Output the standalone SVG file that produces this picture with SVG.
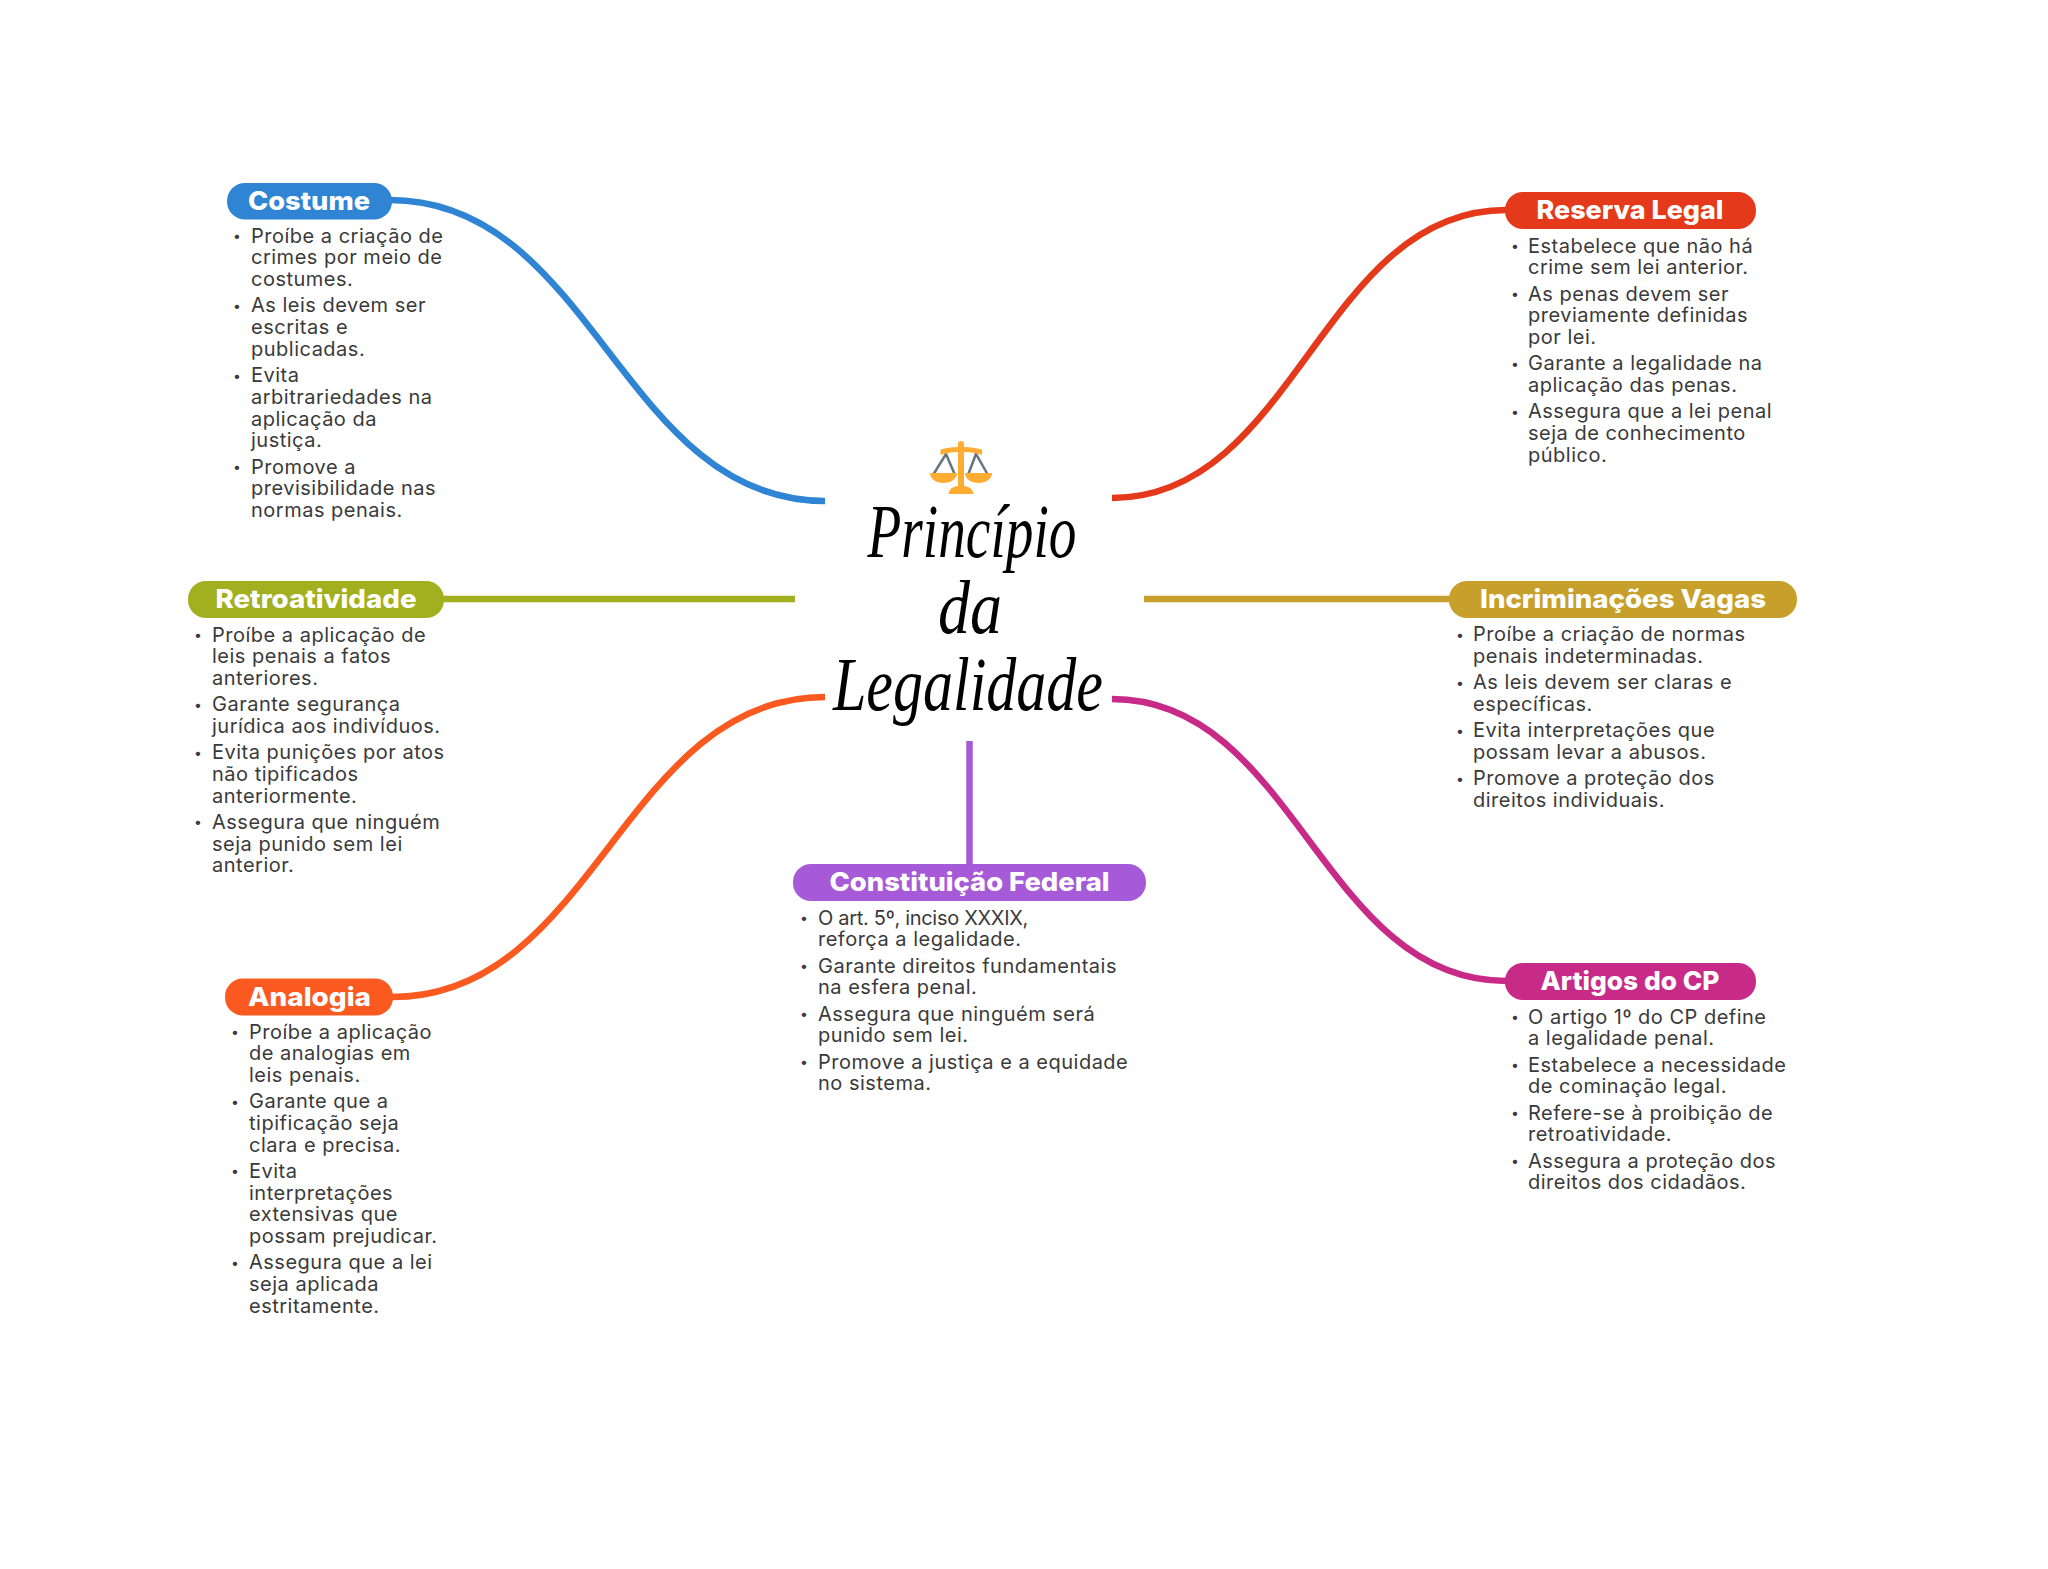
<svg xmlns="http://www.w3.org/2000/svg" width="2048" height="1569" viewBox="0 0 2048 1569">
<style>
.c{fill:none;stroke-width:6.5}
.h{font-family:Inter,"Noto Sans",sans-serif;font-weight:800;font-size:26px;fill:#fff;text-anchor:middle}
.b{font-family:Inter,"Noto Sans",sans-serif;font-size:20px;fill:#3a3a3a;letter-spacing:.5px}
.d{font-size:14px}
.t{font-family:"Liberation Serif",serif;font-style:italic;font-size:76px;fill:#000;text-anchor:middle}
</style>
<rect width="2048" height="1569" fill="#fff"/>
<g id="connectors">
<path class="c" stroke="#2F85D4" d="M390 200C593 200 622 501 825 501"/>
<path class="c" stroke="#E43A1B" d="M1112 498C1295 498 1322 210 1506 210"/>
<path class="c" stroke="#A2AF1E" d="M443 599H795"/>
<path class="c" stroke="#C79F2B" d="M1144 599H1452"/>
<path class="c" stroke="#FA5A20" d="M825 697C623 697 595 997 392 997"/>
<path class="c" stroke="#C72A87" d="M1112 699C1295 699 1322 981 1506 981"/>
<path class="c" stroke="#A75AD8" d="M969.5 741V865"/>
</g>
<g id="center">
<g id="icon">
<path fill="none" stroke="#66757F" stroke-width="2.500" d="M933 475L946 454L955 475M968 475L976 454L988 475"/>
<path fill="#FFAC33" d="M958 444a3 3 0 1 1 6 0v3c6 0 12 1 18 2.500v5.500c-5-2-12-3-18-3V486c5 .5 9 3 9.500 8h-25c.5-5 4.500-7.500 9.500-8V452c-6 0-12 1-17.500 3v-5.500c5-1.500 11-2.500 17.500-2.500zM930 473h27c0 6-6 10-13.500 10S930 479 930 473zM965 473h27c0 6-6 10-13.500 10S965 479 965 473z"/>
</g>
<text class="t" x="972" y="557" textLength="209" lengthAdjust="spacingAndGlyphs">Princípio</text>
<text class="t" x="970" y="633" textLength="64" lengthAdjust="spacingAndGlyphs">da</text>
<text class="t" x="968" y="710" textLength="270" lengthAdjust="spacingAndGlyphs">Legalidade</text>
</g>
<g id="node-costume">
<rect x="227" y="183" width="165" height="36.500" rx="18" fill="#2F85D4"/>
<text class="h" x="309" y="209.500" textLength="122" lengthAdjust="spacingAndGlyphs">Costume</text>
<text class="b"><tspan class="d" x="233" y="241.200">•</tspan><tspan x="251" y="242.700">Proíbe a criação de</tspan><tspan x="251" y="264.400">crimes por meio de</tspan><tspan x="251" y="286.100">costumes.</tspan><tspan class="d" x="233" y="310.900">•</tspan><tspan x="251" y="312.400">As leis devem ser</tspan><tspan x="251" y="334.100">escritas e</tspan><tspan x="251" y="355.800">publicadas.</tspan><tspan class="d" x="233" y="380.600">•</tspan><tspan x="251" y="382.100">Evita</tspan><tspan x="251" y="403.800">arbitrariedades na</tspan><tspan x="251" y="425.500">aplicação da</tspan><tspan x="251" y="447.200">justiça.</tspan><tspan class="d" x="233" y="472">•</tspan><tspan x="251" y="473.500">Promove a</tspan><tspan x="251" y="495.200">previsibilidade nas</tspan><tspan x="251" y="516.900">normas penais.</tspan></text>
</g>
<g id="node-retroatividade">
<rect x="188" y="581" width="256" height="37" rx="18" fill="#A2AF1E"/>
<text class="h" x="316" y="608" textLength="201" lengthAdjust="spacingAndGlyphs">Retroatividade</text>
<text class="b"><tspan class="d" x="194" y="640">•</tspan><tspan x="212" y="641.500">Proíbe a aplicação de</tspan><tspan x="212" y="663.200">leis penais a fatos</tspan><tspan x="212" y="684.900">anteriores.</tspan><tspan class="d" x="194" y="709.700">•</tspan><tspan x="212" y="711.200">Garante segurança</tspan><tspan x="212" y="732.900">jurídica aos indivíduos.</tspan><tspan class="d" x="194" y="757.700">•</tspan><tspan x="212" y="759.200">Evita punições por atos</tspan><tspan x="212" y="780.900">não tipificados</tspan><tspan x="212" y="802.600">anteriormente.</tspan><tspan class="d" x="194" y="827.400">•</tspan><tspan x="212" y="828.900">Assegura que ninguém</tspan><tspan x="212" y="850.600">seja punido sem lei</tspan><tspan x="212" y="872.300">anterior.</tspan></text>
</g>
<g id="node-analogia">
<rect x="225" y="978.500" width="168" height="37" rx="18" fill="#FA5A20"/>
<text class="h" x="309.500" y="1005.500" textLength="123" lengthAdjust="spacingAndGlyphs">Analogia</text>
<text class="b"><tspan class="d" x="231" y="1037">•</tspan><tspan x="249" y="1038.500">Proíbe a aplicação</tspan><tspan x="249" y="1060.200">de analogias em</tspan><tspan x="249" y="1081.900">leis penais.</tspan><tspan class="d" x="231" y="1106.700">•</tspan><tspan x="249" y="1108.200">Garante que a</tspan><tspan x="249" y="1129.900">tipificação seja</tspan><tspan x="249" y="1151.600">clara e precisa.</tspan><tspan class="d" x="231" y="1176.400">•</tspan><tspan x="249" y="1177.900">Evita</tspan><tspan x="249" y="1199.600">interpretações</tspan><tspan x="249" y="1221.300">extensivas que</tspan><tspan x="249" y="1243">possam prejudicar.</tspan><tspan class="d" x="231" y="1267.800">•</tspan><tspan x="249" y="1269.300">Assegura que a lei</tspan><tspan x="249" y="1291">seja aplicada</tspan><tspan x="249" y="1312.700">estritamente.</tspan></text>
</g>
<g id="node-constituicao">
<rect x="793" y="864" width="353" height="37" rx="18" fill="#A75AD8"/>
<text class="h" x="969.500" y="891" textLength="280" lengthAdjust="spacingAndGlyphs">Constituição Federal</text>
<text class="b"><tspan class="d" x="800" y="923">•</tspan><tspan x="818" y="924.500" letter-spacing="-.3">O art. 5º, inciso XXXIX,</tspan><tspan x="818" y="946.200">reforça a legalidade.</tspan><tspan class="d" x="800" y="971">•</tspan><tspan x="818" y="972.500">Garante direitos fundamentais</tspan><tspan x="818" y="994.200">na esfera penal.</tspan><tspan class="d" x="800" y="1019">•</tspan><tspan x="818" y="1020.500">Assegura que ninguém será</tspan><tspan x="818" y="1042.200">punido sem lei.</tspan><tspan class="d" x="800" y="1067">•</tspan><tspan x="818" y="1068.500">Promove a justiça e a equidade</tspan><tspan x="818" y="1090.200">no sistema.</tspan></text>
</g>
<g id="node-reserva">
<rect x="1505" y="192" width="251" height="37" rx="18" fill="#E43A1B"/>
<text class="h" x="1630" y="219" textLength="187" lengthAdjust="spacingAndGlyphs">Reserva Legal</text>
<text class="b"><tspan class="d" x="1511" y="251">•</tspan><tspan x="1528" y="252.500">Estabelece que não há</tspan><tspan x="1528" y="274.200">crime sem lei anterior.</tspan><tspan class="d" x="1511" y="299">•</tspan><tspan x="1528" y="300.500">As penas devem ser</tspan><tspan x="1528" y="322.200">previamente definidas</tspan><tspan x="1528" y="343.900">por lei.</tspan><tspan class="d" x="1511" y="368.700">•</tspan><tspan x="1528" y="370.200">Garante a legalidade na</tspan><tspan x="1528" y="391.900">aplicação das penas.</tspan><tspan class="d" x="1511" y="416.700">•</tspan><tspan x="1528" y="418.200">Assegura que a lei penal</tspan><tspan x="1528" y="439.900">seja de conhecimento</tspan><tspan x="1528" y="461.600">público.</tspan></text>
</g>
<g id="node-incriminacoes">
<rect x="1449" y="581" width="348" height="37" rx="18" fill="#C79F2B"/>
<text class="h" x="1623" y="608" textLength="286" lengthAdjust="spacingAndGlyphs">Incriminações Vagas</text>
<text class="b"><tspan class="d" x="1456" y="639.500">•</tspan><tspan x="1473" y="641">Proíbe a criação de normas</tspan><tspan x="1473" y="662.700">penais indeterminadas.</tspan><tspan class="d" x="1456" y="687.500">•</tspan><tspan x="1473" y="689">As leis devem ser claras e</tspan><tspan x="1473" y="710.700">específicas.</tspan><tspan class="d" x="1456" y="735.500">•</tspan><tspan x="1473" y="737">Evita interpretações que</tspan><tspan x="1473" y="758.700">possam levar a abusos.</tspan><tspan class="d" x="1456" y="783.500">•</tspan><tspan x="1473" y="785">Promove a proteção dos</tspan><tspan x="1473" y="806.700">direitos individuais.</tspan></text>
</g>
<g id="node-artigos">
<rect x="1505" y="963" width="251" height="37" rx="18" fill="#C72A87"/>
<text class="h" x="1630" y="990" textLength="179" lengthAdjust="spacingAndGlyphs">Artigos do CP</text>
<text class="b"><tspan class="d" x="1511" y="1022">•</tspan><tspan x="1528" y="1023.500">O artigo 1º do CP define</tspan><tspan x="1528" y="1045.200">a legalidade penal.</tspan><tspan class="d" x="1511" y="1070">•</tspan><tspan x="1528" y="1071.500">Estabelece a necessidade</tspan><tspan x="1528" y="1093.200">de cominação legal.</tspan><tspan class="d" x="1511" y="1118">•</tspan><tspan x="1528" y="1119.500">Refere-se à proibição de</tspan><tspan x="1528" y="1141.200">retroatividade.</tspan><tspan class="d" x="1511" y="1166">•</tspan><tspan x="1528" y="1167.500">Assegura a proteção dos</tspan><tspan x="1528" y="1189.200">direitos dos cidadãos.</tspan></text>
</g>
</svg>
